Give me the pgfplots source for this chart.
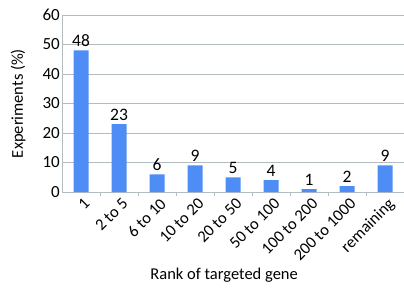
\documentclass[border=0pt]{standalone}
\usepackage{pgfplots}
\pgfplotsset{compat=1.18}
\usepackage{fontspec}
\setmainfont{Carlito}
\definecolor{barblue}{RGB}{77,141,245}
\definecolor{gridgray}{RGB}{180,188,192}
\begin{document}
\begin{tikzpicture}
\begin{axis}[
  name=ax,
  scale only axis,
  width=342pt, height=177pt,
  xmin=-0.5, xmax=8.5, ymin=0, ymax=60,
  ytick={0,10,...,60},
  xtick={0,...,8},
  xticklabels={1,2 to 5,6 to 10,10 to 20,20 to 50,50 to 100,100 to 200,200 to 1000,remaining},
  x tick label style={rotate=45, anchor=north east, font=\fontsize{16.5}{16.5}\selectfont, inner sep=1pt, xshift=-1pt, yshift=-4pt},
  y tick label style={font=\fontsize{17}{17}\selectfont, inner sep=2pt},
  /pgf/number format/assume math mode=true,
  axis x line*=bottom, axis y line*=left,
  axis line style={gridgray, line width=1pt},
  ymajorgrids, major grid style={gridgray, line width=1pt},
  major tick length=0pt,
  extra x ticks={0.5,1.5,...,7.5},
  extra x tick labels={},
  extra x tick style={major tick length=4pt, tick style={gridgray, line width=0.8pt}, tick align=outside, grid=none},
  ylabel={Experiments (\%)},
  ylabel style={font=\fontsize{16.5}{16.5}\selectfont, at={(axis description cs:-0.128,0.5)}, anchor=center},
  xlabel={Rank of targeted gene},
  xlabel style={font=\fontsize{16.5}{16.5}\selectfont, at={(axis description cs:0.474,-0.469)}, anchor=center},
  nodes near coords,
  nodes near coords style={font=\fontsize{17.5}{17.5}\selectfont, black},
  clip=false,
]
\addplot[ybar, bar width=15pt, fill=barblue, draw=none] coordinates {
(0,48) (1,23) (2,6) (3,9) (4,5) (5,4) (6,1) (7,2) (8,9)};
\end{axis}
\pgfresetboundingbox
\path ([xshift=-62pt,yshift=-103pt]ax.south west) rectangle ([yshift=15pt]ax.north east);
\end{tikzpicture}
\end{document}
